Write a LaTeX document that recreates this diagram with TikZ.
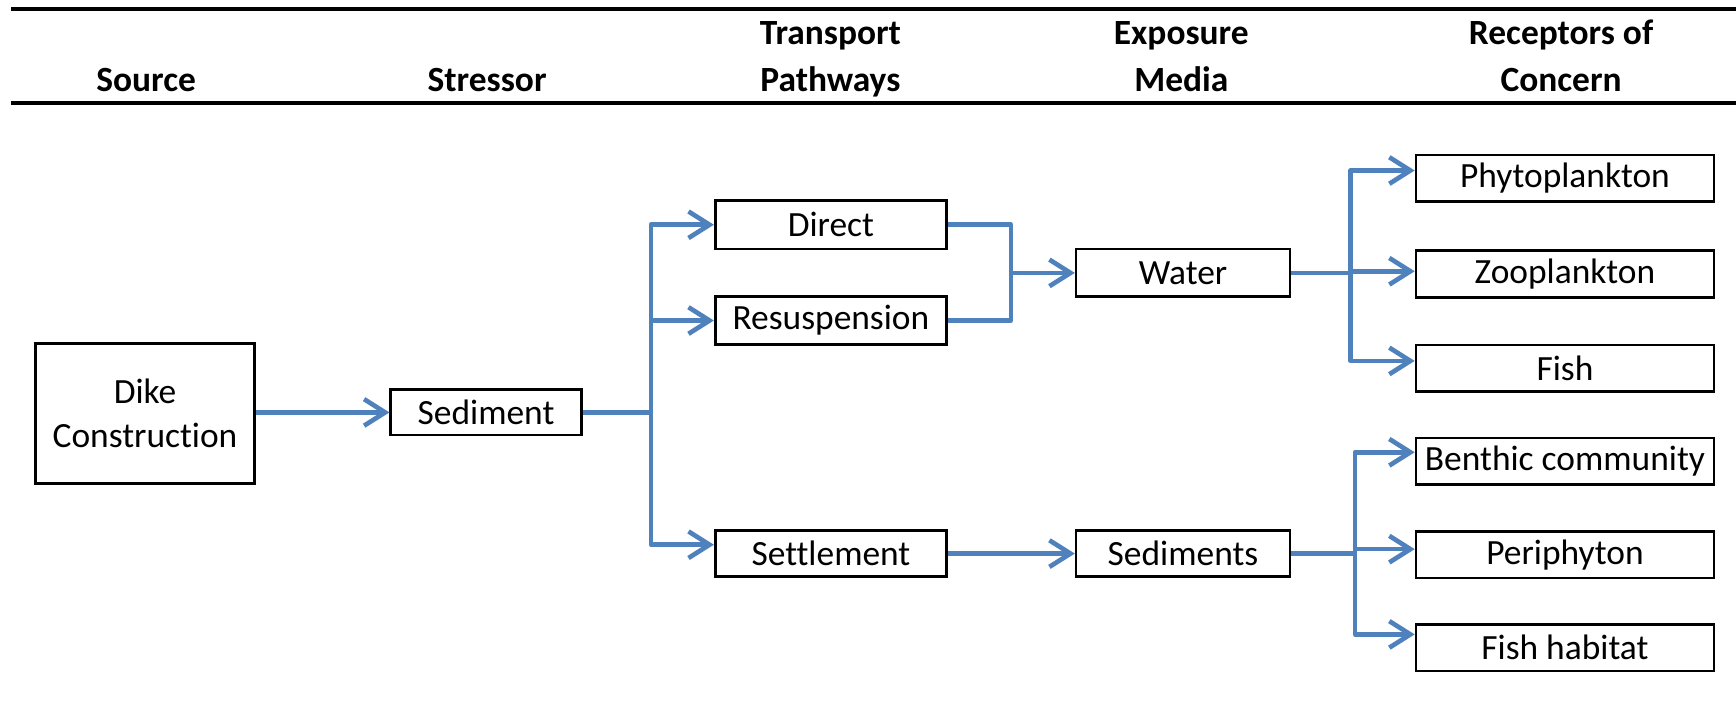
\documentclass[tikz,border=0pt]{standalone}
\usepackage{fontspec}
\setmainfont{Carlito}[Ligatures=NoCommon]
\usetikzlibrary{arrows.meta}
\definecolor{flowblue}{RGB}{79,129,189}
\tikzset{
  box/.style={draw, line width=1.2pt, inner sep=0pt, align=center, font=\fontsize{16}{20}\selectfont},
  rec/.style={box, minimum width=134.5pt, minimum height=21pt},
  pathbox/.style={box, minimum width=104.5pt},
  mediabox/.style={box, minimum width=96.5pt},
  hdr/.style={inner sep=0pt, align=center, anchor=south, text depth=0pt, font=\fontsize{16}{21}\selectfont\bfseries},
  rule/.style={line width=1.6pt},
  link/.style={draw=flowblue, line width=2.1pt, line join=round},
  flow/.style={link, -{Straight Barb[length=9.5pt,width=12pt]}}
}
\begin{document}
\begin{tikzpicture}[x=0.5pt, y=-0.5pt]
\useasboundingbox (0,0) rectangle (1568,642);
% header rules
\coordinate (rt1) at (10,8);
\coordinate (rt2) at (1568,8);
\coordinate (rb1) at (10,93);
\coordinate (rb2) at (1568,93);
\draw[rule] (rt1) -- (rt2);
\draw[rule] (rb1) -- (rb2);
% headers
\node[hdr] (hsource) at (132,83) {Source};
\node[hdr] (hstress) at (440,83) {Stressor};
\node[hdr] (htrans) at (750,83) {Transport\\Pathways};
\node[hdr] (hexpo) at (1067,83) {Exposure\\Media};
\node[hdr] (hrecep) at (1410,83) {Receptors of\\Concern};
% boxes
\node[box, minimum width=99pt, minimum height=63.5pt] (dike) at (131,373.5) {Dike\\Construction};
\node[box, minimum width=86pt, minimum height=20.5pt] (sed) at (439,372.5) {Sediment};
\node[pathbox, minimum height=22pt] (direct) at (750.5,203) {Direct};
\node[pathbox, minimum height=21.5pt] (resus) at (750.5,289.5) {Resuspension};
\node[pathbox, minimum height=21pt] (settle) at (750.5,500) {Settlement};
\node[mediabox, minimum height=21.5pt] (water) at (1068.5,246.5) {Water};
\node[mediabox, minimum height=21pt] (seds) at (1068.5,500) {Sediments};
\node[rec] (phyto) at (1413.5,161) {Phytoplankton};
\node[rec] (zoo) at (1413.5,247.5) {Zooplankton};
\node[rec] (fish) at (1413.5,332.5) {Fish};
\node[rec] (benthic) at (1413.5,416.5) {Benthic community};
\node[rec] (peri) at (1413.5,501) {Periphyton};
\node[rec] (fhab) at (1413.5,585) {Fish habitat};
% junctions
\coordinate (j1) at (588,372.5);
\coordinate (j2) at (913,246.5);
\coordinate (j3) at (1220,246.5);
\coordinate (j4) at (1224,500);
% connectors
\draw[flow] (dike.east |- sed.west) -- (sed.west);
\draw[link] (sed.east) -- (j1);
\draw[flow] (j1) |- (direct.west);
\draw[flow] (j1) |- (resus.west);
\draw[flow] (j1) |- ([yshift=4pt]settle.west);
\draw[link] (direct.east) -| (j2);
\draw[link] (resus.east) -| (j2);
\draw[flow] (j2) -- (water.west);
\draw[flow] (settle.east) -- (seds.west);
\draw[link] (water.east) -- (j3);
\draw[flow] (j3) |- ([yshift=3.5pt]phyto.west);
\draw[flow] (j3) |- ([yshift=1.25pt]zoo.west);
\draw[flow] (j3) |- ([yshift=3.25pt]fish.west);
\draw[link] (seds.east) -- (j4);
\draw[flow] (j4) |- ([yshift=4pt]benthic.west);
\draw[flow] (j4) |- ([yshift=2.5pt]peri.west);
\draw[flow] (j4) |- ([yshift=6pt]fhab.west);
\end{tikzpicture}
\end{document}
